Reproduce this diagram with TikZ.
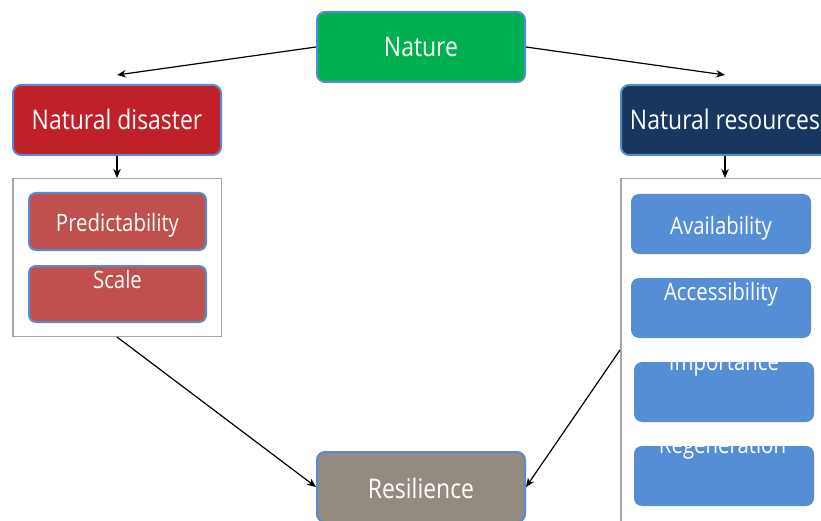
\documentclass[tikz,border=0pt]{standalone}
\usepackage{fontspec}
\setmainfont[FakeStretch=0.85]{Open Sans}
\usetikzlibrary{arrows.meta}

\definecolor{edgeblue}{RGB}{88,138,208}
\definecolor{framegray}{RGB}{166,166,166}
\definecolor{natgreen}{RGB}{0,176,80}
\definecolor{disred}{RGB}{192,32,40}
\definecolor{resnavy}{RGB}{24,55,94}
\definecolor{subred}{RGB}{192,80,77}
\definecolor{subblue}{RGB}{85,142,213}
\definecolor{resgray}{RGB}{148,139,128}

\begin{document}
\begin{tikzpicture}[x=1pt,y=-1pt,
  mainbox/.style={draw=edgeblue, line width=2pt, rounded corners=8pt,
    minimum width=208pt, minimum height=70pt, inner sep=0pt},
  redsub/.style={draw=edgeblue, line width=2pt, fill=subred, rounded corners=7pt,
    minimum width=177pt, inner sep=0pt},
  bluesub/.style={fill=subblue, rounded corners=8pt,
    minimum width=180pt, minimum height=60pt, inner sep=0pt},
  groupframe/.style={draw=framegray, line width=1.5pt, inner sep=0pt,
    minimum width=208.5pt},
  bigtext/.style={text=white, anchor=base, inner sep=0pt,
    font=\fontsize{27}{32}\selectfont},
  subtext/.style={text=white, anchor=base, inner sep=0pt,
    font=\fontsize{24}{28}\selectfont},
  arr/.style={-{Stealth[length=9pt,width=7.5pt]}, line width=1.2pt, black}]

\useasboundingbox (0,0) rectangle (821,521);
\clip (0,0) rectangle (821,521);

% main boxes
\node[mainbox, fill=natgreen] (nature) at (421,47) {};
\node[mainbox, fill=disred] (disaster) at (117,120) {};
\node[mainbox, fill=resnavy] (resources) at (725,120) {};
\node[mainbox, fill=resgray] (resil) at (421,487) {};

\node[bigtext] (natureT) at (421,56.7) {Nature};
\node[bigtext] (disasterT) at (117,130) {Natural disaster};
\node[bigtext] (resourcesT) at (725,130) {Natural resources};
\node[bigtext] (resilT) at (421,498.3) {Resilience};

% group frames
\node[groupframe, minimum height=157.5pt] (lframe) at (117,257.5) {};
\node[groupframe, minimum height=342.5pt] (rframe) at (725,350) {};

% disaster factors
\node[redsub, minimum height=57pt] (pred) at (117.5,221.5) {};
\node[redsub, minimum height=56pt] (scale) at (117.5,294) {};
\node[subtext] (predT) at (117.5,232) {Predictability};
\node[subtext] (scaleT) at (117.5,288.3) {Scale};

% resource factors
\node[bluesub] (avail) at (721,224) {};
\node[bluesub] (access) at (721,308) {};
\node[bluesub] (import) at (724,392) {};
\node[bluesub] (regen) at (724,476) {};
\node[subtext] (availT) at (721,235) {Availability};
\node[subtext] (accessT) at (721,300.7) {Accessibility};
\node[subtext] (importT) at (724,370.7) {Importance};
\node[subtext] (regenT) at (722.5,453.3) {Regeneration};

% connectors
\draw[arr] (nature.west) -- ([yshift=9pt]disaster.north);
\draw[arr] (nature.east) -- ([yshift=9pt]resources.north);
\draw[arr] (disaster.south) -- (lframe.north);
\draw[arr] (resources.south) -- (rframe.north);
\draw[arr] (lframe.south) -- (resil.west);
\draw[arr] (rframe.west) -- (resil.east);
\end{tikzpicture}
\end{document}
